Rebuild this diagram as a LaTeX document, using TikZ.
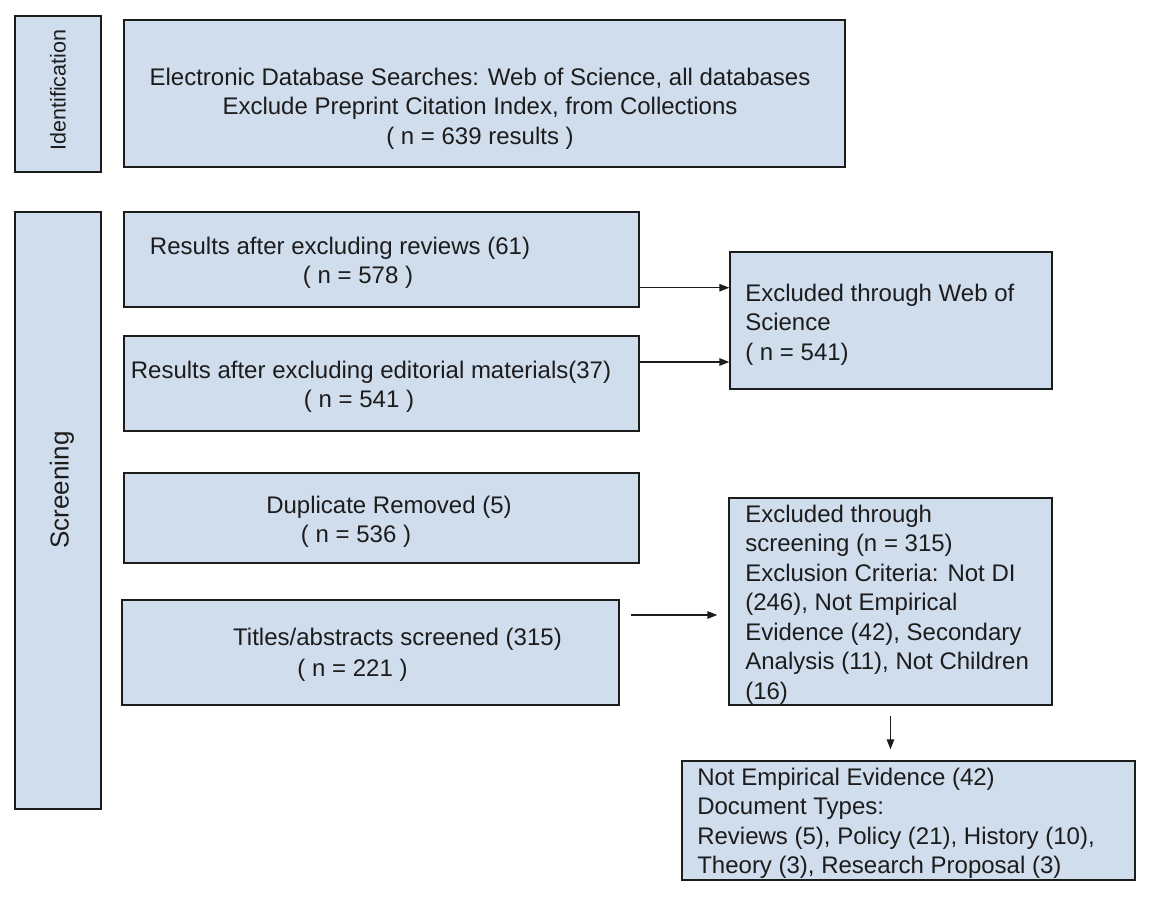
\documentclass[tikz,border=0pt]{standalone}
\usepackage{fontspec}
\setmainfont{Liberation Sans}
\usetikzlibrary{positioning}
\usetikzlibrary{calc}
\usetikzlibrary{arrows.meta}
\definecolor{boxblue}{RGB}{208,221,237}
\definecolor{inkgray}{RGB}{28,28,28}

\begin{document}
\begin{tikzpicture}[x=1pt,y=-1pt,>={Triangle[length=10pt,width=7.5pt]},
			semithick]
			\tikzstyle{box}=[draw=inkgray,fill=boxblue,line width=1.4pt,inner sep=0pt]
			\tikzstyle{txt}=[text=inkgray,inner sep=0pt,font=\fontsize{24}{29.5}\selectfont]
			\tikzstyle{flow}=[->,draw=inkgray,line width=1.4pt]
			
			\useasboundingbox (0,0) rectangle (1166,904);
			
			% stage columns
			\node[box,minimum width=86pt,minimum height=156pt]   (B_id)  at (58,94)    {};
			\node[box,minimum width=86pt,minimum height=597pt]   (B_scr) at (58,510.5) {};
			\node[txt,rotate=90,font=\fontsize{21.5}{26}\selectfont] (T_id)  at (58,90)  {Identification};
			\node[txt,rotate=90,font=\fontsize{26}{30}\selectfont]   (T_scr) at (62,490) {Screening};
			
			% boxes
			\node[box,minimum width=721pt,minimum height=147pt]  (search) at (484.5,93.5)  {};
			\node[box,minimum width=515pt,minimum height=95pt]   (rev)    at (381.5,259.5) {};
			\node[box,minimum width=515pt,minimum height=95pt]   (edit)   at (381.5,383.5) {};
			\node[box,minimum width=515pt,minimum height=90pt]   (dup)    at (381.5,518)   {};
			\node[box,minimum width=497pt,minimum height=105pt]  (titles) at (370.5,652.5) {};
			\node[box,minimum width=322pt,minimum height=137pt]  (wos)    at (891,320.5)   {};
			\node[box,minimum width=323pt,minimum height=207pt]  (scr)    at (890.5,601.5) {};
			\node[box,minimum width=453pt,minimum height=119pt]  (ne)     at (908.5,820.5) {};
			
			% texts
			\node[txt,align=center,anchor=north] (T_search) at (480,67.5)
			{Electronic Database Searches: Web of Science, all databases\\
				Exclude Preprint Citation Index, from Collections\\
				( n = 639 results )};
			\node[txt,align=center,anchor=north] (T_rev) at (340,236.5)
			{Results after excluding reviews (61)\\ \hspace*{36pt}( n = 578 )};
			\node[txt,align=center,anchor=north] (T_edit) at (371,360.5)
			{Results after excluding editorial materials(37)\\ ( n = 541 )\hspace*{24pt}};
			\node[txt,align=center,anchor=north] (T_dup) at (389,495.5)
			{Duplicate Removed (5)\\ ( n = 536 )\hspace*{66pt}};
			\node[txt,align=center,anchor=north,font=\fontsize{24}{31}\selectfont] (T_titles) at (397.5,627.5)
			{Titles/abstracts screened (315)\\ ( n = 221 )\hspace*{90pt}};
			\node[txt,align=left,anchor=north west] (T_wos) at (745,283.5)
			{Excluded through Web of\\ Science\\ ( n = 541)};
			\node[txt,align=left,anchor=north west] (T_scr) at (745,504.5)
			{Excluded through\\ screening (n = 315)\\ Exclusion Criteria: Not DI\\
				(246), Not Empirical\\ Evidence (42), Secondary\\ Analysis (11), Not Children\\ (16)};
			\node[txt,align=left,anchor=north west] (T_ne) at (697,767.5)
			{Not Empirical Evidence (42)\\ Document Types:\\
				Reviews (5), Policy (21), History (10),\\ Theory (3), Research Proposal (3)};
			
			% connectors
			\coordinate (a_rev)    at ([yshift=20pt]rev.south east);
			\coordinate (a_edit)   at ([yshift=21.5pt]edit.east);
			\coordinate (a_titles) at ([shift={(11pt,37.5pt)}]titles.east);
			\coordinate (a_scr)    at ([yshift=-10pt]scr.south);
			
			\draw[flow] (a_rev)    -- (a_rev -| wos.west);
			\draw[flow] (a_edit)   -- (a_edit -| wos.west);
			\draw[flow] (a_titles) -- ($(a_titles -| scr.west)+(-11pt,0pt)$);
			\draw[flow] (a_scr)    -- ($(a_scr |- ne.north)+(0pt,11pt)$);
			
			;
\end{tikzpicture}
\end{document}
